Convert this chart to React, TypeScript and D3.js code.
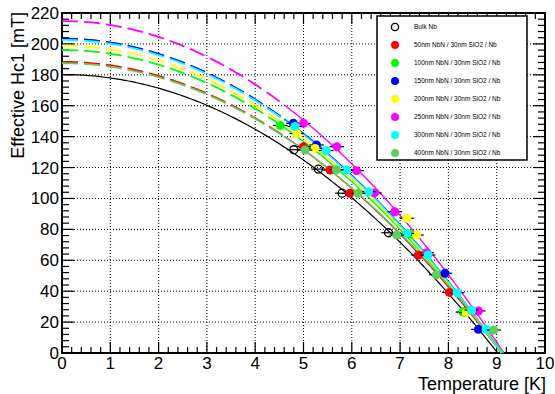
import React, { useEffect, useRef } from "react";
import { line, range, scaleLinear, select } from "d3";

const W = 555;
const H = 394;
const margin = { top: 13, right: 10, bottom: 41, left: 62 };

const seriesNames = [
  "Bulk Nb",
  "50nm NbN / 30nm SiO2 / Nb",
  "100nm NbN / 30nm SiO2 / Nb",
  "150nm NbN / 30nm SiO2 / Nb",
  "200nm NbN / 30nm SiO2 / Nb",
  "250nm NbN / 30nm SiO2 / Nb",
  "300nm NbN / 30nm SiO2 / Nb",
  "400nm NbN / 30nm SiO2 / Nb",
];
const seriesColors = [
  "#000000",
  "#ff0000",
  "#00ff00",
  "#0000ff",
  "#ffff00",
  "#ff00ff",
  "#00ffff",
  "#5ccf5c",
];

// measured points (temperature [K], Hc1 [mT])
const tempBulk = [4.8, 5.31, 5.8, 6.76, 8.34];
const hc1Bulk = [131.5, 119, 103.4, 77.8, 26.5];
const temp50 = [5.0, 5.55, 5.96, 7.38, 8.02];
const hc150 = [133.5, 118.4, 103.3, 63.4, 39.2];
const temp100 = [4.52, 7.2, 8.3];
const hc1100 = [147.2, 77, 26.5];
const temp150 = [4.79, 5.27, 7.93, 8.62];
const hc1150 = [148.6, 134.6, 51.6, 15.3];
const temp200 = [4.86, 5.24, 7.14, 7.34, 8.37];
const hc1200 = [142, 132.4, 87.2, 76.3, 26.1];
const temp250 = [5.0, 5.69, 6.1, 6.47, 6.89, 7.55, 8.62];
const hc1250 = [148.6, 133.5, 118, 103.6, 91.4, 64.9, 27.2];
const temp300 = [4.82, 5.47, 5.89, 6.35, 7.14, 7.58, 8.18, 8.48, 8.78];
const hc1300 = [146.6, 131, 118.4, 104.4, 77.4, 63.4, 39, 27.8, 15.3];
const temp400 = [5.03, 5.68, 6.13, 6.93, 7.75, 8.94];
const hc1400 = [131.3, 118.6, 103.3, 76.3, 50.7, 14.9];

const temps = [tempBulk, temp50, temp100, temp150, temp200, temp250, temp300, temp400];
const hc1s = [hc1Bulk, hc150, hc1100, hc1150, hc1200, hc1250, hc1300, hc1400];
const tempErr = 0.15;

// fit parameters Hc1(T) = H0 * (1 - (T/Tc)^2)
const fitH0 = [180.2, 188.4, 196, 203.4, 198.9, 214.8, 202.6, 187.5];
const fitTc = [9.02, 9.1, 9.1, 9.1, 9.1, 9.15, 9.1, 9.14];
const fitStart = 4.6;

const xTicks = [0, 1, 2, 3, 4, 5, 6, 7, 8, 9, 10];
const yTicks = [0, 20, 40, 60, 80, 100, 120, 140, 160, 180, 200, 220];

const font = "'Liberation Sans', Arial, Helvetica, sans-serif";

export default function App() {
  const svgRef = useRef(null);

  useEffect(() => {
    const svg = select(svgRef.current);
    svg.selectAll("*").remove();

    const x = scaleLinear().domain([0, 10]).range([margin.left, W - margin.right]);
    const y = scaleLinear().domain([0, 220]).range([H - margin.bottom, margin.top]);
    const [x0, x1] = x.range();
    const [y0, y1] = y.range();

    svg.append("rect").attr("width", W).attr("height", H).attr("fill", "white");

    // grid
    const grid = svg.append("g").attr("stroke", "black").attr("stroke-width", 1)
      .attr("stroke-dasharray", "1,2");
    xTicks.slice(1, -1).forEach((t) => {
      grid.append("line").attr("x1", x(t)).attr("x2", x(t)).attr("y1", y0).attr("y2", y1);
    });
    yTicks.slice(1, -1).forEach((t) => {
      grid.append("line").attr("x1", x0).attr("x2", x1).attr("y1", y(t)).attr("y2", y(t));
    });

    // ticks on all four sides
    const ticks = svg.append("g").attr("stroke", "black").attr("stroke-width", 1.2);
    range(0, 10.001, 0.2).forEach((t) => {
      const major = Math.abs(t - Math.round(t)) < 1e-6;
      const len = major ? 11 : 6;
      ticks.append("line").attr("x1", x(t)).attr("x2", x(t)).attr("y1", y0).attr("y2", y0 - len);
      ticks.append("line").attr("x1", x(t)).attr("x2", x(t)).attr("y1", y1).attr("y2", y1 + len);
    });
    range(0, 220.001, 4).forEach((v) => {
      const major = Math.round(v) % 20 === 0;
      const len = major ? 12 : 7;
      ticks.append("line").attr("x1", x0).attr("x2", x0 + len).attr("y1", y(v)).attr("y2", y(v));
      ticks.append("line").attr("x1", x1).attr("x2", x1 - len).attr("y1", y(v)).attr("y2", y(v));
    });

    // frame
    svg.append("rect")
      .attr("x", x0).attr("y", y1).attr("width", x1 - x0).attr("height", y0 - y1)
      .attr("fill", "none").attr("stroke", "black").attr("stroke-width", 2);

    // tick labels
    svg.append("g").selectAll("text").data(xTicks).enter().append("text")
      .attr("x", (d) => x(d)).attr("y", 369).attr("text-anchor", "middle")
      .attr("font-family", font).attr("font-size", 17).text((d) => d);
    svg.append("g").selectAll("text").data(yTicks).enter().append("text")
      .attr("x", x0 - 3).attr("y", (d) => y(d) + 6).attr("text-anchor", "end")
      .attr("font-family", font).attr("font-size", 17).text((d) => d);

    // axis titles
    svg.append("text").attr("x", x1 + 1).attr("y", 390).attr("text-anchor", "end")
      .attr("font-family", font).attr("font-size", 18).text("Temperature [K]");
    svg.append("text").attr("transform", `translate(24, ${y1 - 1}) rotate(-90)`)
      .attr("text-anchor", "end").attr("font-family", font).attr("font-size", 18)
      .text("Effective Hc1 [mT]");

    // fit curves
    const plot = svg.append("g");
    seriesNames.forEach((_, i) => {
      const h0 = fitH0[i];
      const tc = fitTc[i];
      const f = (t: number) => h0 * (1 - (t / tc) * (t / tc));
      const path = line<number>().x((t) => x(t)).y((t) => y(Math.max(0, f(t))));
      const full = range(0, tc, 0.05).concat([tc]);
      if (i === 0) {
        plot.append("path").attr("d", path(full)).attr("fill", "none")
          .attr("stroke", "black").attr("stroke-width", 1.2);
      } else {
        plot.append("path").attr("d", path(full.filter((t) => t <= fitStart + 0.05)))
          .attr("fill", "none").attr("stroke", seriesColors[i]).attr("stroke-width", 1.8)
          .attr("stroke-dasharray", "16,6");
        plot.append("path").attr("d", path(full.filter((t) => t >= fitStart)))
          .attr("fill", "none").attr("stroke", seriesColors[i]).attr("stroke-width", 1.4);
      }
    });

    // error bars then markers
    seriesNames.forEach((_, i) => {
      const g = plot.append("g");
      temps[i].forEach((t, k) => {
        g.append("line").attr("x1", x(t - tempErr)).attr("x2", x(t + tempErr))
          .attr("y1", y(hc1s[i][k])).attr("y2", y(hc1s[i][k]))
          .attr("stroke", "black").attr("stroke-width", 1.2);
      });
      temps[i].forEach((t, k) => {
        g.append("circle").attr("cx", x(t)).attr("cy", y(hc1s[i][k])).attr("r", i === 0 ? 4 : 4.5)
          .attr("fill", i === 0 ? "none" : seriesColors[i])
          .attr("stroke", i === 0 ? "black" : "none").attr("stroke-width", 1.3);
      });
    });

    // legend
    const legend = svg.append("g");
    legend.append("rect").attr("x", 377).attr("y", 16).attr("width", 150).attr("height", 144)
      .attr("fill", "white").attr("stroke", "black").attr("stroke-width", 1.5);
    seriesNames.forEach((name, i) => {
      const ly = 27 + i * 18;
      legend.append("circle").attr("cx", 395).attr("cy", ly).attr("r", i === 0 ? 3.6 : 4)
        .attr("fill", i === 0 ? "white" : seriesColors[i])
        .attr("stroke", i === 0 ? "black" : "none").attr("stroke-width", 1.3);
      legend.append("text").attr("x", 414).attr("y", ly + 2.3)
        .attr("font-family", font).attr("font-size", 6.5).text(name);
    });
  }, []);

  return (
    <svg
      ref={svgRef}
      width={W}
      height={H}
      style={{ position: "absolute", left: 0, top: 0 }}
    />
  );
}
